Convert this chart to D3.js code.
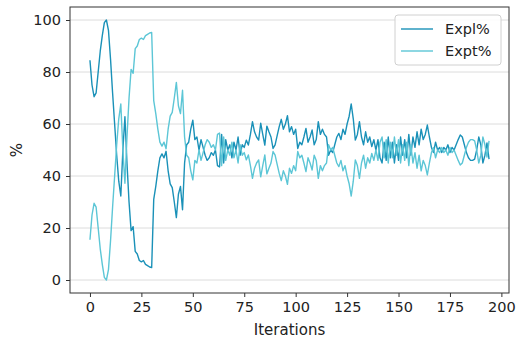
<!DOCTYPE html>
<html>
<head>
<meta charset="utf-8">
<script src="https://cdn.jsdelivr.net/npm/d3@7"></script>
<style>
  body { margin: 0; background: #fff; }
  text { font-family: "DejaVu Sans", sans-serif; fill: #222; }
</style>
</head>
<body>
<div id="vis"></div>
<script>
// values, one point per iteration
let explPct = [
  84.5, 75, 70.5, 72, 80, 88, 94, 99, 100, 96,
  85, 72, 60, 48, 38, 32.3, 50, 62.8, 45, 30,
  19, 20.5, 11, 10, 7.5, 7, 7.5, 6, 5.5, 5,
  4.8, 31, 36, 42, 47, 48.5, 47, 49.5, 42, 37,
  35.5, 30, 24, 33, 36, 27, 45, 52, 53, 58,
  61.5, 54, 55, 50, 54, 51, 48, 46, 47, 49,
  48, 50, 44, 43.5, 56, 45, 54, 50, 52, 47,
  53, 50, 55, 48, 52, 51, 53.8, 51.9, 56, 60.9,
  57, 55, 53.8, 60.3, 56, 51.9, 59.2, 57, 55, 50.6,
  52, 55.5, 59, 61.8, 58, 60, 63.2, 57, 59, 56,
  58, 50.6, 53, 52, 55, 58.3, 53, 55, 57.7, 52,
  54, 60.9, 56, 58, 56, 55, 48, 50, 49, 52,
  55, 56.4, 54, 58, 56, 60, 63, 67.7, 62, 53.8,
  56, 60.9, 55, 52, 57, 53, 55, 51.3, 54, 50,
  54, 47, 45, 53, 46, 55, 47, 53, 45, 52,
  46, 55, 48, 54, 47, 56, 48, 55, 51, 57,
  52, 58, 54, 56, 59.6, 55, 51, 49, 53, 50,
  51, 49, 51, 50, 52, 49, 51, 50, 52, 54,
  55.8, 55, 52, 49, 47, 46, 46, 46.5, 50, 55,
  52, 45, 48, 52.7, 46.5
]

let exptPct = [
  15.5, 25, 29.5, 28, 20, 12, 6, 1, 0, 4,
  15, 28, 40, 52, 62, 67.7, 50, 37.2, 55, 70,
  81, 79.5, 89, 90, 92.5, 93, 92.5, 94, 94.5, 95,
  95.2, 69, 64, 58, 53, 51.5, 53, 50.5, 58, 63,
  64.5, 70, 76, 67, 64, 73, 55, 48, 47, 42,
  38.5, 46, 45, 50, 46, 49, 52, 54, 53, 51,
  52, 50, 56, 56.5, 44, 55, 46, 50, 48, 53,
  47, 50, 45, 52, 48, 49, 46.2, 48.1, 44, 39.1,
  43, 45, 46.2, 39.7, 44, 48.1, 40.8, 43, 45, 49.4,
  48, 44.5, 41, 38.2, 42, 40, 36.8, 43, 41, 44,
  42, 49.4, 47, 48, 45, 41.7, 47, 45, 42.3, 48,
  46, 39.1, 44, 42, 44, 45, 52, 50, 51, 48,
  45, 43.6, 46, 42, 44, 40, 37, 32.3, 38, 46.2,
  44, 39.1, 45, 48, 43, 47, 45, 48.7, 46, 50,
  46, 53, 55, 47, 54, 45, 53, 47, 55, 48,
  54, 45, 52, 46, 53, 44, 52, 45, 49, 43,
  48, 42, 46, 44, 40.4, 45, 49, 51, 47, 50,
  49, 51, 49, 50, 48, 51, 49, 50, 48, 46,
  44.2, 45, 48, 51, 53, 54, 54, 53.5, 50, 45,
  48, 55, 52, 47.3, 53.5
]

let seriesNames = ['Expl%', 'Expt%']
let seriesColors = ['#1a91b8', '#5cc6d6']
let xTicks = [0, 25, 50, 75, 100, 125, 150, 175, 200]
let yTicks = [0, 20, 40, 60, 80, 100]

let margin = { top: 7, left: 70, right: 7, bottom: 47 },
  width = 516 - margin.left - margin.right,
  height = 340 - margin.top - margin.bottom;

let svg = d3.select('#vis')
  .append('svg')
  .attr('width', 516)
  .attr('height', 340)

let g = svg.append('g')
  .attr('transform', `translate(${margin.left},${margin.top})`)

let n = explPct.length
let x = d3.scaleLinear()
  .domain([-0.05 * (n - 1), (n - 1) * 1.05])
  .range([0, width])

let y = d3.scaleLinear()
  .domain([-5, 105])
  .range([height, 0])

// horizontal grid
g.append('g')
  .selectAll('line')
  .data(yTicks)
  .join('line')
  .attr('x1', 0)
  .attr('x2', width)
  .attr('y1', d => y(d))
  .attr('y2', d => y(d))
  .attr('stroke', '#dcdcdc')
  .attr('stroke-width', 1)

let xAxis = g.append('g')
  .attr('transform', `translate(0,${height})`)
  .call(d3.axisBottom(x).tickValues(xTicks).tickSize(4).tickPadding(5))

let yAxis = g.append('g')
  .call(d3.axisLeft(y).tickValues(yTicks).tickSize(4).tickPadding(5))

;[xAxis, yAxis].forEach(ax => {
  ax.select('.domain').remove()
  ax.selectAll('line').attr('stroke', '#333').attr('stroke-width', 1)
  ax.selectAll('text')
    .style('font-family', '"DejaVu Sans", sans-serif')
    .style('font-size', '14.5px')
    .attr('fill', '#222')
})

let line = d3.line()
  .x((d, i) => x(i))
  .y(d => y(d))

;[explPct, exptPct].forEach((vals, k) => {
  g.append('path')
    .datum(vals)
    .attr('fill', 'none')
    .attr('stroke', seriesColors[k])
    .attr('stroke-width', 1.4)
    .attr('stroke-linejoin', 'round')
    .attr('d', line)
})

// frame
g.append('rect')
  .attr('width', width)
  .attr('height', height)
  .attr('fill', 'none')
  .attr('stroke', '#333')
  .attr('stroke-width', 1)

svg.append('text')
  .attr('x', margin.left + width / 2)
  .attr('y', 335)
  .attr('text-anchor', 'middle')
  .style('font-size', '15px')
  .text('Iterations')

svg.append('text')
  .attr('transform', `translate(22,${margin.top + height / 2}) rotate(-90)`)
  .attr('text-anchor', 'middle')
  .style('font-size', '15px')
  .text('%')

// legend
let legend = svg.append('g')
  .attr('transform', 'translate(395,15)')

legend.append('rect')
  .attr('width', 106)
  .attr('height', 50)
  .attr('rx', 3)
  .attr('fill', 'white')
  .attr('fill-opacity', 0.85)
  .attr('stroke', '#d0d0d0')

seriesNames.forEach((name, k) => {
  let row = legend.append('g')
    .attr('transform', `translate(0,${14 + k * 22})`)
  row.append('line')
    .attr('x1', 6)
    .attr('x2', 38)
    .attr('stroke', seriesColors[k])
    .attr('stroke-width', 1.4)
  row.append('text')
    .attr('x', 50)
    .attr('dy', '0.35em')
    .style('font-size', '14.5px')
    .text(name)
})
</script>
</body>
</html>
